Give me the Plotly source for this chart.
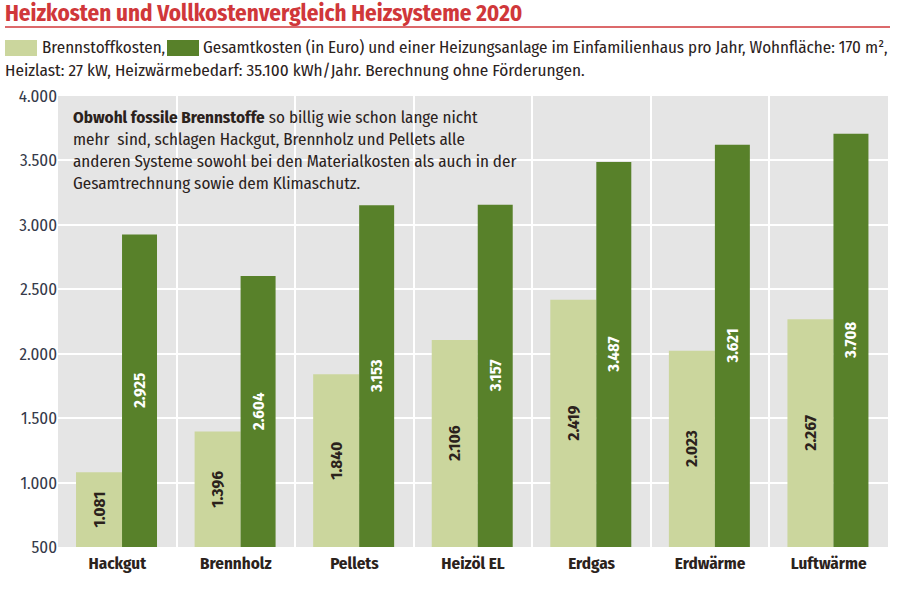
import plotly.graph_objects as go

categories = ["Hackgut", "Brennholz", "Pellets", "Heizöl EL", "Erdgas", "Erdwärme", "Luftwärme"]
brennstoffkosten = [1081, 1396, 1840, 2106, 2419, 2023, 2267]
gesamtkosten = [2925, 2604, 3153, 3157, 3487, 3621, 3708]
y_ticks = [500, 1000, 1500, 2000, 2500, 3000, 3500, 4000]
axis_floor = 500

FONT = "Fira Sans Condensed, Liberation Sans Narrow, DejaVu Sans Condensed, Roboto, sans-serif"
LIGHT = "#CBD69D"
DARK = "#58812A"
TXT = "#2B221C"

W, H = 908, 590
L, R, T, B = 58, 20, 96, 43

fig = go.Figure()
fig.add_trace(go.Bar(
    x=categories, y=[v - axis_floor for v in brennstoffkosten], base=axis_floor,
    customdata=brennstoffkosten, name="Brennstoffkosten",
    marker=dict(color=LIGHT, line=dict(width=0)),
    width=0.388, offset=-0.348,
    texttemplate="%{customdata:,d}", hovertemplate="%{x}: %{customdata:,d}<extra></extra>",
    textposition="inside", insidetextanchor="middle",
    textangle=-90, constraintext="none",
    textfont=dict(family=FONT, size=17, color=TXT, weight="bold"),
))
fig.add_trace(go.Bar(
    x=categories, y=[v - axis_floor for v in gesamtkosten], base=axis_floor,
    customdata=gesamtkosten, name="Gesamtkosten",
    marker=dict(color=DARK, line=dict(width=0)),
    width=0.295, offset=0.04,
    texttemplate="%{customdata:,d}", hovertemplate="%{x}: %{customdata:,d}<extra></extra>",
    textposition="inside", insidetextanchor="middle",
    textangle=-90, constraintext="none",
    textfont=dict(family=FONT, size=16.5, color="white", weight="bold"),
))


def ax(px):
    return (px - L) / (W - L - R)


def ay(py):
    return (H - B - py) / (H - T - B)


shapes = [
    dict(type="line", xref="paper", yref="paper",
         x0=ax(5), x1=ax(890), y0=ay(27), y1=ay(27),
         line=dict(color="#D0373A", width=1.5)),
    dict(type="rect", xref="paper", yref="paper",
         x0=ax(5), x1=ax(37), y0=ay(56), y1=ay(40),
         fillcolor=LIGHT, line=dict(width=0)),
    dict(type="rect", xref="paper", yref="paper",
         x0=ax(167), x1=ax(199), y0=ay(56), y1=ay(40),
         fillcolor=DARK, line=dict(width=0)),
]

annotations = [
    dict(text="<b>Heizkosten und Vollkostenvergleich Heizsysteme 2020</b>",
         x=ax(3), y=ay(13), xanchor="left", yanchor="middle",
         font=dict(family=FONT, size=23, color="#D0373A")),
    dict(text="Brennstoffkosten,",
         x=ax(40), y=ay(48), xanchor="left", yanchor="middle",
         font=dict(family=FONT, size=17, color=TXT)),
    dict(text="Gesamtkosten (in Euro) und einer Heizungsanlage im Einfamilienhaus pro Jahr, Wohnfläche: 170 m²,",
         x=ax(201), y=ay(48), xanchor="left", yanchor="middle",
         font=dict(family=FONT, size=17, color=TXT)),
    dict(text="Heizlast: 27 kW, Heizwärmebedarf: 35.100 kWh/Jahr. Berechnung ohne Förderungen.",
         x=ax(3), y=ay(70), xanchor="left", yanchor="middle",
         font=dict(family=FONT, size=17.2, color=TXT)),
    dict(text=("<b>Obwohl fossile Brennstoffe</b> so billig wie schon lange nicht<br>"
               "mehr  sind, schlagen Hackgut, Brennholz und Pellets alle<br>"
               "anderen Systeme sowohl bei den Materialkosten als auch in der<br>"
               "Gesamtrechnung sowie dem Klimaschutz."),
         x=ax(71), y=ay(105), xanchor="left", yanchor="top", align="left",
         font=dict(family=FONT, size=17, color=TXT)),
]
for a in annotations:
    a.update(xref="paper", yref="paper", showarrow=False)

fig.update_layout(
    width=W, height=H,
    margin=dict(l=L, r=R, t=T, b=B),
    paper_bgcolor="white", plot_bgcolor="#E5E5E5",
    barmode="overlay", showlegend=False,
    separators=",.",
    font=dict(family=FONT, size=16, color=TXT),
    shapes=shapes, annotations=annotations,
    xaxis=dict(
        type="category", tickson="boundaries", showgrid=True,
        gridcolor="white", gridwidth=1.5, ticks="", showline=False,
        tickfont=dict(family=FONT, size=17, color=TXT, weight="bold"),
        ticklabelstandoff=4,
        range=[-0.5, 6.5], zeroline=False,
    ),
    yaxis=dict(
        range=[500, 4000], tickvals=y_ticks, tickformat=",d",
        showgrid=True, gridcolor="white", gridwidth=1.5,
        ticks="", showline=False, zeroline=False,
        tickfont=dict(family=FONT, size=17, color="#353A4A"),
    ),
)

fig.write_html("out.html", config={"displayModeBar": False})

with open("out.html", encoding="utf-8") as f:
    html = f.read()
html = html.replace("<body>", '<body style="margin:0;padding:0;">', 1)
with open("out.html", "w", encoding="utf-8") as f:
    f.write(html)
